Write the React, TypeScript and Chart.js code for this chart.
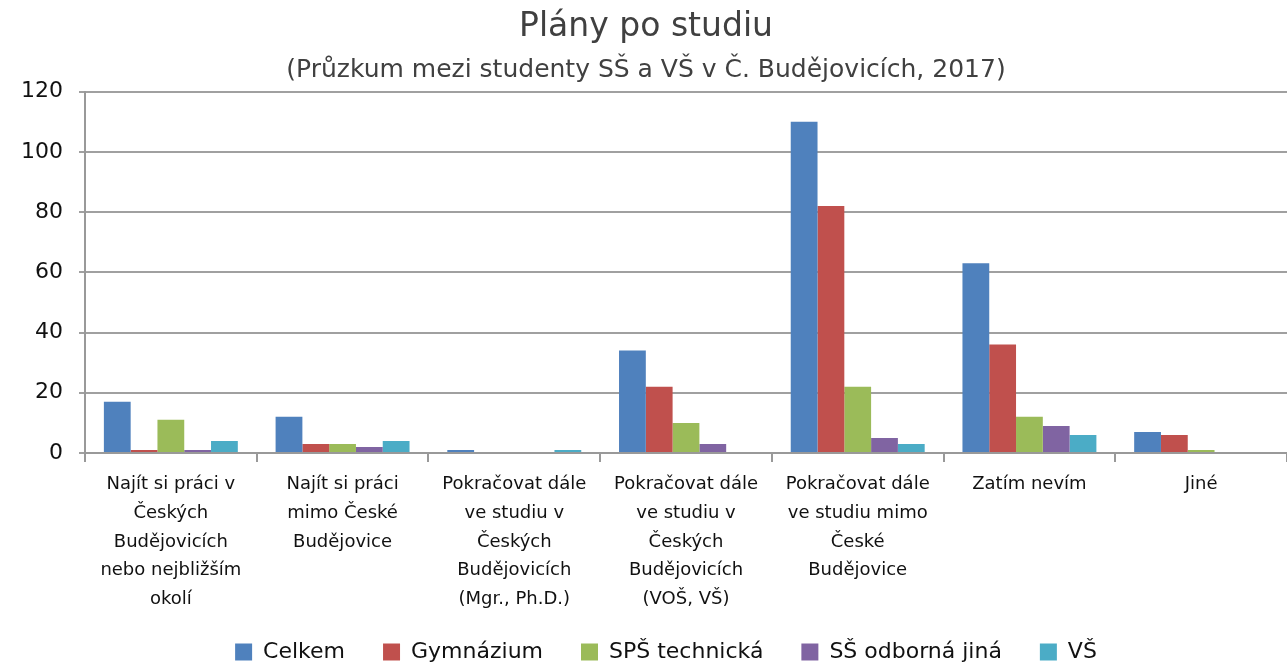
import React, { useEffect, useRef } from "react";
import { Chart, registerables } from "chart.js";

Chart.register(...registerables);

const categories: string[][] = [
  ["Najít si práci v", "Českých", "Budějovicích", "nebo nejbližším", "okolí"],
  ["Najít si práci", "mimo České", "Budějovice"],
  ["Pokračovat dále", "ve studiu v", "Českých", "Budějovicích", "(Mgr., Ph.D.)"],
  ["Pokračovat dále", "ve studiu v", "Českých", "Budějovicích", "(VOŠ, VŠ)"],
  ["Pokračovat dále", "ve studiu mimo", "České", "Budějovice"],
  ["Zatím nevím"],
  ["Jiné"],
];

const celkem = [17, 12, 1, 34, 110, 63, 7];
const gymnazium = [1, 3, 0, 22, 82, 36, 6];
const spsTechnicka = [11, 3, 0, 10, 22, 12, 1];
const ssOdbornaJina = [1, 2, 0, 3, 5, 9, 0];
const vs = [4, 4, 1, 0, 3, 6, 0];

const seriesNames = ["Celkem", "Gymnázium", "SPŠ technická", "SŠ odborná jiná", "VŠ"];
const seriesColors = ["#4F81BD", "#C0504D", "#9BBB59", "#8064A2", "#4BACC6"];
const yTicks = [0, 20, 40, 60, 80, 100, 120];

const titleText = "Plány po studiu";
const subtitleText = "(Průzkum mezi studenty SŠ a VŠ v Č. Budějovicích, 2017)";

const FONT = "DejaVu Sans";

const legendShift = {
  id: "legendShift",
  afterLayout(chart: any) {
    const l = chart.legend;
    if (l) {
      l.top -= 14;
      l.bottom -= 14;
      l.left += 20;
      l.right += 20;
    }
  },
};

export default function App() {
  const canvasRef = useRef<HTMLCanvasElement | null>(null);

  useEffect(() => {
    document.body.style.margin = "0";
    const ctx = canvasRef.current;
    if (!ctx) return;
    const values = [celkem, gymnazium, spsTechnicka, ssOdbornaJina, vs];
    const chart = new Chart(ctx, {
      type: "bar",
      plugins: [legendShift],
      data: {
        labels: categories,
        datasets: seriesNames.map((name, i) => ({
          label: name,
          data: values[i],
          backgroundColor: seriesColors[i],
          borderWidth: 0,
          categoryPercentage: 0.78,
          barPercentage: 1,
        })),
      },
      options: {
        animation: false,
        responsive: false,
        maintainAspectRatio: false,
        layout: { padding: { left: 5, right: 0, top: 8, bottom: -22 } },
        plugins: {
          title: {
            display: true,
            text: titleText,
            color: "#404040",
            font: { family: FONT, size: 33, weight: "normal", lineHeight: 1.2 },
            padding: { top: 0, bottom: 0 },
          },
          subtitle: {
            display: true,
            text: subtitleText,
            color: "#404040",
            font: { family: FONT, size: 25, weight: "normal", lineHeight: 1.2 },
            padding: { top: 8, bottom: 6 },
          },
          legend: {
            position: "bottom",
            labels: {
              boxWidth: 17,
              boxHeight: 17,
              padding: 38,
              color: "#111",
              font: { family: FONT, size: 22 },
            },
          },
          tooltip: { enabled: false },
        },
        scales: {
          x: {
            afterFit: (axis: any) => {
              axis.height = 164;
            },
            grid: {
              display: true,
              drawOnChartArea: false,
              drawTicks: true,
              tickLength: 9,
              color: "#999",
              lineWidth: 2,
              offset: true,
            },
            border: { display: true, color: "#999", width: 2 },
            ticks: {
              maxRotation: 0,
              minRotation: 0,
              autoSkip: false,
              color: "#111",
              padding: 8,
              font: { family: FONT, size: 18, lineHeight: 1.6 },
            },
          },
          y: {
            min: 0,
            max: 120,
            afterBuildTicks: (axis: any) => {
              axis.ticks = yTicks.map((v) => ({ value: v }));
            },
            grid: {
              color: "#a0a0a0",
              lineWidth: 2,
              tickLength: 6,
            },
            border: { display: true, color: "#999", width: 2 },
            ticks: {
              color: "#111",
              padding: 16,
              font: { family: FONT, size: 22 },
            },
          },
        },
      },
    });
    return () => chart.destroy();
  }, []);

  return (
    <div style={{ position: "absolute", left: 0, top: 0, width: 1287, height: 665 }}>
      <canvas ref={canvasRef} width={1287} height={665} style={{ width: 1287, height: 665 }} />
    </div>
  );
}
